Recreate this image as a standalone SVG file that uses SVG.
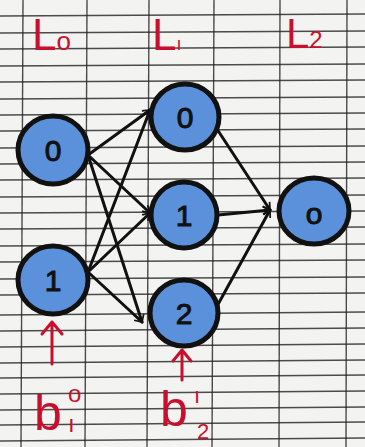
<svg xmlns="http://www.w3.org/2000/svg" width="365" height="447" viewBox="0 0 365 447">
<style>
.grid line{stroke:#222;stroke-width:1.4;opacity:.8}
.node circle, .node ellipse{fill:#5b91da;stroke:#111;stroke-width:5}
.node text{font-family:"Liberation Sans",Arial,sans-serif;font-size:30px;fill:#111;text-anchor:middle;stroke:#111;stroke-width:1}
.edge{stroke:#111;stroke-width:3;fill:none;stroke-linecap:round}
.red{fill:#c8102e;font-family:"Liberation Sans",Arial,sans-serif}
.bias{stroke:#c8102e;stroke-width:3;fill:none;stroke-linecap:round;stroke-linejoin:round}
</style>
<defs>
<marker id="ah" viewBox="0 0 12 12" refX="10" refY="6" markerWidth="7" markerHeight="7" orient="auto" markerUnits="userSpaceOnUse" style="overflow:visible">
<path d="M-2 -1 L10 6 L-2 13" fill="none" stroke="#111" stroke-width="3"/>
</marker>
</defs>
<rect width="365" height="447" fill="#f3f3f1"/>
<g class="grid">
<line x1="0" y1="16" x2="365" y2="14"/>
<line x1="0" y1="33" x2="365" y2="31"/>
<line x1="0" y1="49" x2="365" y2="47"/>
<line x1="0" y1="66" x2="365" y2="64"/>
<line x1="0" y1="82" x2="365" y2="80"/>
<line x1="0" y1="99" x2="365" y2="97"/>
<line x1="0" y1="115" x2="365" y2="113"/>
<line x1="0" y1="131" x2="365" y2="129"/>
<line x1="0" y1="148" x2="365" y2="146"/>
<line x1="0" y1="164" x2="365" y2="162"/>
<line x1="0" y1="180" x2="365" y2="178"/>
<line x1="0" y1="197" x2="365" y2="195"/>
<line x1="0" y1="213" x2="365" y2="211"/>
<line x1="0" y1="229" x2="365" y2="227"/>
<line x1="0" y1="246" x2="365" y2="244"/>
<line x1="0" y1="262" x2="365" y2="260"/>
<line x1="0" y1="279" x2="365" y2="277"/>
<line x1="0" y1="295" x2="365" y2="293"/>
<line x1="0" y1="315" x2="365" y2="312"/>
<line x1="0" y1="331" x2="365" y2="328"/>
<line x1="0" y1="347" x2="365" y2="344"/>
<line x1="0" y1="363" x2="365" y2="360"/>
<line x1="0" y1="378" x2="365" y2="375"/>
<line x1="0" y1="394" x2="365" y2="391"/>
<line x1="0" y1="410" x2="365" y2="407"/>
<line x1="0" y1="425" x2="365" y2="422"/>
<line x1="0" y1="441" x2="365" y2="438"/>
<line x1="23" y1="0" x2="21" y2="447"/>
<line x1="87" y1="0" x2="85" y2="447"/>
<line x1="149" y1="0" x2="147" y2="447"/>
<line x1="214" y1="0" x2="212" y2="447"/>
<line x1="280" y1="0" x2="279" y2="447"/>
<line x1="347" y1="0" x2="346" y2="447"/>
</g>
<g id="labels">
<text class="red" x="32" y="50" font-size="44">L<tspan font-size="26">o</tspan></text>
<text class="red" x="152" y="50" font-size="44">L<tspan font-size="18">ı</tspan></text>
<text class="red" x="286" y="48" font-size="42">L<tspan font-size="24">2</tspan></text>
</g>
<g id="connectors">
<line class="edge" x1="88" y1="155" x2="150" y2="110" marker-end="url(#ah)"/>
<line class="edge" x1="88" y1="155" x2="150" y2="213" marker-end="url(#ah)"/>
<line class="edge" x1="88" y1="155" x2="142" y2="322" marker-end="url(#ah)"/>
<line class="edge" x1="88" y1="272" x2="150" y2="110" marker-end="url(#ah)"/>
<line class="edge" x1="88" y1="272" x2="150" y2="213" marker-end="url(#ah)"/>
<line class="edge" x1="88" y1="272" x2="142" y2="322" marker-end="url(#ah)"/>
<line class="edge" x1="215" y1="126" x2="270" y2="210" marker-end="url(#ah)"/>
<line class="edge" x1="218" y1="215" x2="270" y2="210" marker-end="url(#ah)"/>
<line class="edge" x1="216" y1="308" x2="270" y2="210" marker-end="url(#ah)"/>
</g>
<g id="n-l0-0" class="node"><ellipse cx="53" cy="150" rx="35" ry="34"/><text x="53" y="161">0</text></g>
<g id="n-l0-1" class="node"><ellipse cx="53" cy="280" rx="35" ry="34"/><text x="53" y="291">1</text></g>
<g id="n-l1-0" class="node"><ellipse cx="185" cy="117" rx="34" ry="33"/><text x="185" y="128">0</text></g>
<g id="n-l1-1" class="node"><ellipse cx="184" cy="215" rx="33" ry="33"/><text x="184" y="226">1</text></g>
<g id="n-l1-2" class="node"><ellipse cx="184" cy="313" rx="34" ry="33"/><text x="184" y="324">2</text></g>
<g id="n-l2-0" class="node"><ellipse cx="314" cy="211" rx="35" ry="33"/><text x="314" y="224">o</text></g>
<g id="bias0">
<path class="bias" d="M52 364 L52 322 M42 334 L52 322 L62 334"/>
<text class="red" x="34" y="430" font-size="50">b</text>
<text class="red" x="68" y="402" font-size="24">o</text>
<text class="red" x="68" y="432" font-size="24">ı</text>
</g>
<g id="bias1">
<path class="bias" d="M182 380 L182 350 M173 361 L182 350 L191 361"/>
<text class="red" x="160" y="426" font-size="50">b</text>
<text class="red" x="194" y="403" font-size="22">ı</text>
<text class="red" x="197" y="439" font-size="22">2</text>
</g>
</svg>
